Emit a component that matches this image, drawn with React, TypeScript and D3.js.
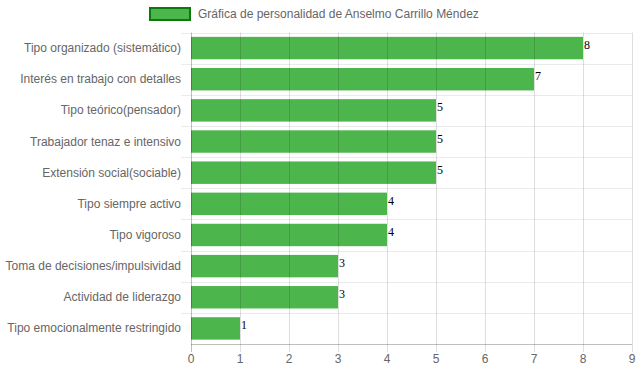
import React from "react";
import * as d3 from "d3";

const categories = [
  "Tipo organizado (sistemático)",
  "Interés en trabajo con detalles",
  "Tipo teórico(pensador)",
  "Trabajador tenaz e intensivo",
  "Extensión social(sociable)",
  "Tipo siempre activo",
  "Tipo vigoroso",
  "Toma de decisiones/impulsividad",
  "Actividad de liderazgo",
  "Tipo emocionalmente restringido",
];
const values = [8, 7, 5, 5, 5, 4, 4, 3, 3, 1];
const xTicks = [0, 1, 2, 3, 4, 5, 6, 7, 8, 9];
const seriesName = "Gráfica de personalidad de Anselmo Carrillo Méndez";

const W = 639;
const H = 372;
const left = 191;
const right = 632;
const top = 32.5;
const bottom = 344;
const font = "'Liberation Sans', Arial, Helvetica, sans-serif";

const App = () => {
  const x = d3.scaleLinear().domain([0, 9]).range([left, right]);
  const y = d3.scaleBand().domain(categories).range([top, bottom]);
  const barH = y.bandwidth() * 0.72;

  return (
    <svg width={W} height={H} style={{ position: "absolute", left: 0, top: 0 }}>
      {/* legend */}
      <rect x={150} y={8} width={40} height={12} fill="#4CB54C" stroke="#0A7A0A" strokeWidth={2} />
      <text x={198} y={18} fontSize={12} fill="#666" fontFamily={font}>{seriesName}</text>

      {/* horizontal grid */}
      {categories.map((c, i) => (
        <line key={"h" + i} x1={left - 10} x2={right} y1={Math.round(y(c)!) + 0.5} y2={Math.round(y(c)!) + 0.5}
          stroke="#ebebeb" />
      ))}

      {/* bars */}
      {categories.map((c, i) => (
        <g key={"b" + i}>
          <rect x={x(0)} y={y(c)! + (y.bandwidth() - barH) / 2} width={x(values[i]) - x(0)} height={barH}
            fill="#4CB54C" />
          <text x={x(values[i]) + 1} y={y(c)! + y.bandwidth() / 2 + 1} fontSize={12} fill="#000"
            fontFamily="'Liberation Serif', 'DejaVu Serif', serif">
            {values[i]}
          </text>
        </g>
      ))}

      {/* vertical grid (drawn over bars) */}
      {xTicks.map((t) => (
        <line key={"v" + t} x1={Math.round(x(t)) + 0.5} x2={Math.round(x(t)) + 0.5} y1={top} y2={bottom + 8}
          stroke={t === 0 ? "rgba(0,0,0,0.25)" : "rgba(0,0,0,0.13)"} />
      ))}
      <line x1={left} x2={right} y1={bottom + 0.5} y2={bottom + 0.5} stroke="rgba(0,0,0,0.25)" />

      {/* y labels */}
      {categories.map((c, i) => (
        <text key={"l" + i} x={left - 10} y={y(c)! + y.bandwidth() / 2 + 4} textAnchor="end" fontSize={12}
          fill="#666" fontFamily={font}>{c}</text>
      ))}
      {/* x labels */}
      {xTicks.map((t) => (
        <text key={"t" + t} x={x(t)} y={bottom + 19} textAnchor="middle" fontSize={12} fill="#666" fontFamily={font}>
          {t}
        </text>
      ))}
    </svg>
  );
};

export default App;
